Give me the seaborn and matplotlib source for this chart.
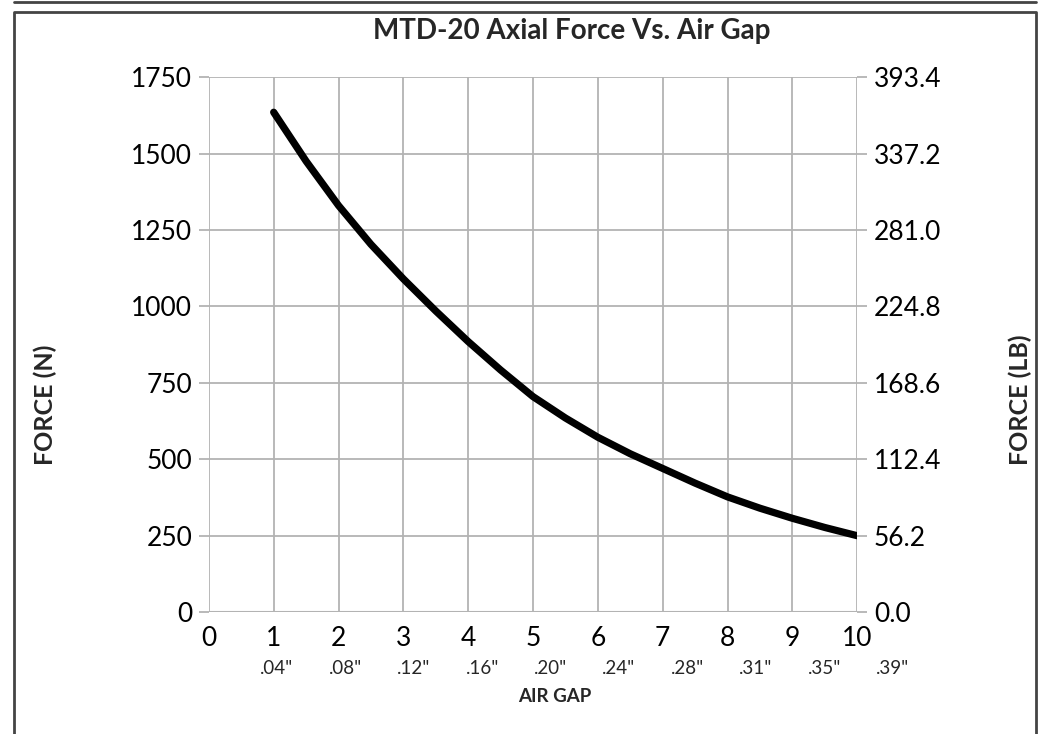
import matplotlib
matplotlib.use("Agg")
import matplotlib.pyplot as plt
import matplotlib.transforms as mtransforms
import seaborn as sns
import pandas as pd

# data
air_gap = [1, 1.5, 2, 2.5, 3, 3.5, 4, 4.5, 5, 5.5, 6, 6.5, 7, 7.5, 8, 8.5, 9, 9.5, 10]
force_n = [1635, 1475, 1330, 1203, 1090, 985, 885, 792, 705, 635, 572, 518, 470, 422,
           377, 340, 307, 277, 250]
x_ticks = list(range(0, 11))
inch_labels = ['.04"', '.08"', '.12"', '.16"', '.20"', '.24"', '.28"', '.31"', '.35"', '.39"']
y_ticks = [0, 250, 500, 750, 1000, 1250, 1500, 1750]
lb_labels = ['0.0', '56.2', '112.4', '168.6', '224.8', '281.0', '337.2', '393.4']

df = pd.DataFrame({'gap': air_gap, 'force': force_n})

sns.set_theme(style="white")
plt.rcParams['font.family'] = ['Lato', 'DejaVu Sans']

fig = plt.figure(figsize=(10.39, 7.34), dpi=100)
ax = fig.add_axes([0.201, 0.166, 0.624, 0.729])

sns.lineplot(data=df, x='gap', y='force', color='black', linewidth=5.2, ax=ax)

grid_c = '#b3b3b3'
ax.set_xlim(0, 10)
ax.set_ylim(0, 1750)
ax.set_xticks(x_ticks)
ax.set_yticks(y_ticks)
ax.grid(True, color=grid_c, linewidth=1.3)
for s in ax.spines.values():
    s.set_visible(False)
ax.axhline(0, color=grid_c, linewidth=1.5)
ax.tick_params(axis='x', colors=grid_c, length=7, width=1.3, labelsize=19, labelcolor='black', pad=3)
ax.tick_params(axis='y', colors=grid_c, length=7, width=1.3, labelsize=19, labelcolor='black', pad=5)
ax.set_xlabel('')
ax.set_ylabel('')

ax2 = ax.twinx()
ax2.set_ylim(0, 1750)
ax2.set_yticks(y_ticks)
ax2.set_yticklabels(lb_labels)
for s in ax2.spines.values():
    s.set_visible(False)
ax2.tick_params(axis='y', colors=grid_c, length=7, width=1.3, labelsize=19, labelcolor='black', pad=5)

# inch equivalents under the numeric ticks
trans = mtransforms.blended_transform_factory(ax.transData, fig.transFigure)
for i, lab in enumerate(inch_labels):
    ax.text(1.05 + i * 1.055, 1 - 668 / 734, lab, transform=trans, ha='center', va='center',
            fontsize=13.5)

fig.text(0.5335, 1 - 697 / 734, 'AIR GAP', ha='center', va='center', fontsize=13.5,
         fontweight='bold')
fig.text(0.55, 1 - 31 / 734, 'MTD-20 Axial Force Vs. Air Gap', ha='center', va='center',
         fontsize=20, fontweight='bold')
fig.text(45 / 1039, 1 - 405 / 734, 'FORCE (N)', rotation=90, ha='center', va='center',
         fontsize=18, fontweight='bold')
fig.text(1020 / 1039, 1 - 400 / 734, 'FORCE (LB)', rotation=90, ha='center', va='center',
         fontsize=18, fontweight='bold')

# frames around the figure
fig.add_artist(plt.Line2D([14 / 1039, 1036 / 1039], [1 - 1.5 / 734] * 2, color='#444444',
                          linewidth=2, transform=fig.transFigure))
fig.add_artist(plt.Line2D([14 / 1039, 14 / 1039, 1036 / 1039, 1036 / 1039],
                          [0, 1 - 12 / 734, 1 - 12 / 734, 0], color='#444444',
                          linewidth=2, transform=fig.transFigure))

fig.savefig('out.png', dpi=100)
